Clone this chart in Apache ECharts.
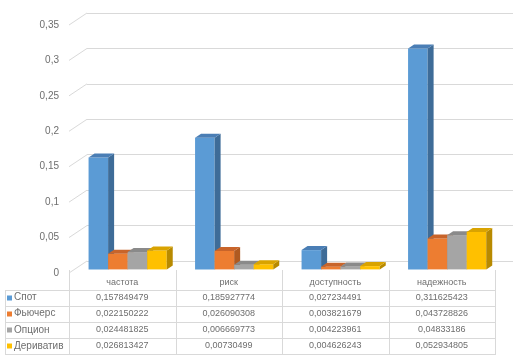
<!DOCTYPE html>
<html>
<head>
<meta charset="utf-8">
<script src="https://cdn.jsdelivr.net/npm/echarts@6/dist/echarts.min.js"></script>
<style>html,body{margin:0;padding:0;background:#fff}#c{width:520px;height:360px}</style>
</head>
<body>
<div id="c"></div>
<script>
const categories = ['частота', 'риск', 'доступность', 'надежность'];
const seriesNames = ['Спот', 'Фьючерс', 'Опцион', 'Дериватив'];
const spot = [0.157849479, 0.185927774, 0.027234491, 0.311625423];
const futures = [0.022150222, 0.026090308, 0.003821679, 0.043728826];
const option = [0.024481825, 0.006669773, 0.004223961, 0.04833186];
const derivative = [0.026813427, 0.00730499, 0.004626243, 0.052934805];
const yTickValues = [0, 0.05, 0.1, 0.15, 0.2, 0.25, 0.3, 0.35];
const yTickLabels = ['0', '0,05', '0,1', '0,15', '0,2', '0,25', '0,3', '0,35'];

const allSeries = [spot, futures, option, derivative];
const faceColors = [
  {front: '#5B9BD5', side: '#3E6C98', top: '#4A7EB5'},
  {front: '#ED7D31', side: '#B05A20', top: '#C8642A'},
  {front: '#A5A5A5', side: '#7A7A7A', top: '#8A8A8A'},
  {front: '#FFC000', side: '#B88A00', top: '#D9A300'}
];
const txt = '#6E6E6E';
const lineC = '#D9D9D9';
const font = '"Liberation Sans", Arial, sans-serif';

const FL = 69, FR = 495, FT = 25, FB = 273; // front plane
const DX = 18, DY = -12; // depth
const BF = 0.3;          // bar depth fraction
const BD = 6, BDY = -4;  // bar depth

const chart = echarts.init(document.getElementById('c'), null, {renderer: 'canvas'});

function fmt(v) { return String(v).replace('.', ','); }

const series = [];
series.push({
  type: 'custom', xAxisIndex: 0, yAxisIndex: 0, silent: true,
  data: yTickValues.map(v => [0, v]),
  renderItem: function (params, api) {
    const p = api.coord([0, api.value(1)]);
    const x = params.coordSys.x;
    return {type: 'line', shape: {x1: x, y1: p[1], x2: x + DX, y2: p[1] + DY},
      style: {stroke: lineC, lineWidth: 1}};
  }
});
allSeries.forEach(function (arr, si) {
  series.push({
    type: 'custom', name: seriesNames[si], xAxisIndex: 2, yAxisIndex: 2,
    data: arr.map((v, i) => [i, v]),
    renderItem: function (params, api) {
      const cat = api.value(0), val = api.value(1);
      const top = api.coord([cat, val]);
      const base = api.coord([cat, 0]);
      const cw = api.size([1, 0])[0];
      const bw = cw * 0.734 / 4;
      const x0 = top[0] - 2 * bw + si * bw;
      const y = top[1], y0 = base[1];
      const c = faceColors[si];
      return {type: 'group', children: [
        {type: 'rect', shape: {x: x0, y: y, width: bw, height: y0 - y}, style: {fill: c.front}},
        {type: 'polygon', shape: {points: [[x0 + bw, y], [x0 + bw + BD, y + BDY], [x0 + bw + BD, y0 + BDY], [x0 + bw, y0]]}, style: {fill: c.side}},
        {type: 'polygon', shape: {points: [[x0, y], [x0 + BD, y + BDY], [x0 + bw + BD, y + BDY], [x0 + bw, y]]}, style: {fill: c.top}}
      ]};
    }
  });
});

const graphics = [];
const colW = (FR - FL) / 4;
const rowLines = [290, 305.5, 321.5, 338, 354];
const headerY = 282.5;
const rowCenters = [297.5, 313.5, 330, 346];
const TL = 5;
for (let k = 0; k <= 4; k++) {
  const x = Math.round(FL + k * colW) + 0.5;
  graphics.push({type: 'line', shape: {x1: x, y1: FB - 3, x2: x, y2: rowLines[4]}, style: {stroke: lineC, lineWidth: 1}, silent: true});
}
graphics.push({type: 'line', shape: {x1: TL + 0.5, y1: rowLines[0], x2: TL + 0.5, y2: rowLines[4]}, style: {stroke: lineC, lineWidth: 1}, silent: true});
rowLines.forEach(function (y) {
  graphics.push({type: 'line', shape: {x1: TL, y1: Math.round(y) + 0.5, x2: FR + 1, y2: Math.round(y) + 0.5}, style: {stroke: lineC, lineWidth: 1}, silent: true});
});
categories.forEach(function (c, k) {
  graphics.push({type: 'text', x: FL + (k + 0.5) * colW, y: headerY,
    style: {text: c, fill: txt, font: '9px ' + font, textAlign: 'center', textVerticalAlign: 'middle'}, silent: true});
});
seriesNames.forEach(function (n, si) {
  const cy = rowCenters[si];
  graphics.push({type: 'rect', shape: {x: 7, y: Math.round(cy) - 2.5, width: 5, height: 5}, style: {fill: faceColors[si].front}, silent: true});
  graphics.push({type: 'text', x: 14, y: cy, style: {text: n, fill: txt, font: '10px ' + font, textAlign: 'left', textVerticalAlign: 'middle'}, silent: true});
  allSeries[si].forEach(function (v, k) {
    graphics.push({type: 'text', x: FL + (k + 0.5) * colW, y: cy,
      style: {text: fmt(v), fill: txt, font: '9px ' + font, textAlign: 'center', textVerticalAlign: 'middle'}, silent: true});
  });
});

chart.setOption({
  animation: false,
  backgroundColor: '#fff',
  grid: [
    {left: FL, right: 520 - FR, top: FT, bottom: 360 - FB},
    {left: FL + DX, right: 520 - FR - DX, top: FT + DY, bottom: 360 - FB - DY},
    {left: FL + DX * BF, right: 520 - FR - DX * BF, top: FT + DY * BF, bottom: 360 - FB - DY * BF}
  ],
  xAxis: [0, 1, 2].map(i => ({type: 'category', gridIndex: i, data: categories, show: false})),
  yAxis: [
    {type: 'value', gridIndex: 0, min: 0, max: 0.35, interval: 0.05,
      axisLine: {show: false}, axisTick: {show: false}, splitLine: {show: false},
      axisLabel: {color: txt, fontSize: 10, fontFamily: font, margin: 10,
        formatter: v => yTickLabels[Math.round(v / 0.05)]}},
    {type: 'value', gridIndex: 1, min: 0, max: 0.35, interval: 0.05,
      axisLine: {show: false}, axisTick: {show: false}, axisLabel: {show: false},
      splitLine: {show: true, lineStyle: {color: lineC, width: 1}}},
    {type: 'value', gridIndex: 2, min: 0, max: 0.35, interval: 0.05, show: false}
  ],
  series: series,
  graphic: graphics
});
</script>
</body>
</html>
